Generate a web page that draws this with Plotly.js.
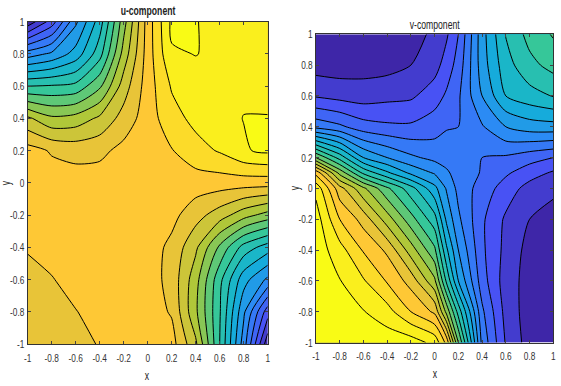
<!DOCTYPE html>
<html>
<head>
<meta charset="utf-8">
<script src="https://cdn.plot.ly/plotly-3.0.1.min.js"></script>
<style>html,body{margin:0;padding:0;background:#fff}</style>
</head>
<body>
<div id="chart" style="width:561px;height:386px"></div>
<script>
// grid nodes; v gets one extra line at 0.1 where its contours bunch up
const uGrid = [-1, -0.8, -0.6, -0.4, -0.2, 0, 0.2, 0.4, 0.6, 0.8, 1];
const vGrid = [-1, -0.8, -0.6, -0.4, -0.2, 0, 0.1, 0.2, 0.4, 0.6, 0.8, 1];
const tickVals = [-1, -0.8, -0.6, -0.4, -0.2, 0, 0.2, 0.4, 0.6, 0.8, 1];
const tickText = ['-1', '-0.8', '-0.6', '-0.4', '-0.2', '0', '0.2', '0.4', '0.6', '0.8', '1'];

const uValues = [
  [15.5, 15.65, 15.8, 16.04, 16.4, 16.5, 16.4, 14.2, 10, 5.5, 0.3],
  [15.7, 15.8, 15.98, 16.2, 16.45, 16.5, 15.9, 13.2, 10.1, 6.2, 2.45],
  [15.85, 15.97, 16.2, 16.35, 16.5, 16.5, 15.65, 13.4, 10.3, 7.4, 5.8],
  [16.04, 16.2, 16.35, 16.45, 16.5, 16.5, 15.75, 14.2, 11.8, 9.6, 8.5],
  [16.4, 16.45, 16.5, 16.5, 16.55, 16.55, 16.3, 15.4, 14.5, 13.4, 12.6],
  [16.5, 16.5, 16.5, 16.5, 16.55, 16.55, 16.55, 16.52, 16.5, 16.47, 16.45],
  [16.4, 15.9, 15.65, 15.75, 16.3, 16.55, 16.95, 17.6, 18.1, 18.9, 19.2],
  [14.2, 13.2, 13.4, 14.2, 15.4, 16.52, 17.6, 18.3, 18.7, 19.02, 19.02],
  [10, 10.1, 10.3, 11.8, 14.5, 16.5, 18.1, 18.7, 18.75, 18.85, 18.85],
  [5.5, 6.2, 7.4, 9.6, 13.4, 16.47, 18.9, 19.02, 18.85, 18.8, 18.75],
  [0.3, 2.45, 5.8, 8.5, 12.6, 16.45, 19.2, 19.02, 18.85, 18.75, 18.7]
];
const vValues = [
  [19.9, 19.8, 19.7, 19.6, 19.5, 18.7, 16.7, 12, 4.7, 1.9, 0.55, 0.2],
  [19.8, 19.4, 19.05, 18.4, 17, 15.8, 12.7, 9.6, 4.2, 1.65, 0.5, 0.3],
  [19.7, 19.05, 18.1, 16.9, 15.6, 13.2, 9.8, 7, 3.45, 1.5, 0.6, 0.5],
  [19.6, 18.4, 16.9, 15.8, 13.5, 11.2, 8.2, 6, 3.2, 1.7, 0.65, 0.6],
  [19.5, 17, 15.6, 13.5, 11.4, 9.4, 6.8, 5.2, 3.17, 1.83, 1, 0.85],
  [18.7, 15.4, 13.2, 11.2, 9.4, 7.3, 5.9, 4.7, 3.55, 2.55, 1.6, 1.08],
  [16.7, 12.7, 9.8, 8.2, 6.8, 5.9, 5.1, 4.75, 3.9, 3.15, 2.45, 1.85],
  [12, 9.6, 7, 6, 5.2, 4.7, 4.75, 4.85, 4, 3.85, 3.4, 3],
  [4.7, 4.2, 3.45, 3.2, 3.17, 3.55, 3.9, 4, 4.9, 6, 6.5, 6.6],
  [1.9, 1.65, 1.5, 1.7, 1.83, 2.55, 3.15, 3.85, 6, 8, 8.6, 9.05],
  [0.55, 0.5, 0.6, 0.65, 1, 1.6, 2.45, 3.4, 6.5, 8.6, 9.7, 10.35],
  [0.2, 0.3, 0.5, 0.6, 0.85, 1.08, 1.85, 3, 6.6, 9.05, 10.35, 11.1]
];

// parula stops, nudged so each band lands on the reference colour
const parula = [
  [0, '#3e26a8'], [0.105, '#4852f4'], [0.25, '#2e87f7'], [0.39, '#12b1d6'],
  [0.53, '#37c897'], [0.675, '#abc739'], [0.83, '#fec338'], [0.98, '#f9fb15'], [1, '#f9fb15']
];

const fontName = '"Liberation Sans", Arial, sans-serif';
const W = 561, H = 386;

function contourTrace(grid, z, xa, ya) {
  return {
    type: 'contour', x: grid, y: grid, z: z, xaxis: xa, yaxis: ya,
    colorscale: parula, showscale: false, hoverinfo: 'skip',
    autocontour: false,
    contours: { start: 1, end: 19, size: 1, coloring: 'fill' },
    line: { color: '#000', width: 1, smoothing: 0.7 }
  };
}

function axisOpts(domain, anchor, labelGap) {
  return {
    domain: domain, anchor: anchor, range: [-1, 1],
    tickmode: 'array', tickvals: tickVals, ticktext: tickText,
    ticks: 'inside', ticklen: 3, tickcolor: '#444', ticklabelstandoff: labelGap,
    showline: true, linecolor: '#333', linewidth: 1, mirror: 'ticks',
    showgrid: false, zeroline: false,
    tickfont: { family: fontName, size: 11.5, color: '#333' }
  };
}

function textNote(text, px, py, angle, size) {
  return {
    text: text, xref: 'paper', yref: 'paper', x: px / W, y: 1 - py / H,
    xanchor: 'center', yanchor: 'middle', showarrow: false, textangle: angle,
    font: { family: fontName, size: size, color: '#222' }
  };
}

const layout = {
  width: W, height: H, showlegend: false,
  margin: { l: 0, r: 0, t: 0, b: 0 },
  paper_bgcolor: '#fff', plot_bgcolor: '#fff',
  xaxis: axisOpts([27.7 / W, 267.7 / W], 'y', 3),
  yaxis: axisOpts([1 - 344 / H, 1 - 21.7 / H], 'x', 0),
  xaxis2: axisOpts([316 / W, 553.3 / W], 'y2', 3),
  yaxis2: axisOpts([1 - 342.5 / H, 1 - 34.3 / H], 'x2', 0),
  annotations: [
    textNote('<b>u-component</b>', 147.5, 11.5, 0, 12),
    textNote('v-component', 434.5, 25, 0, 12),
    textNote('x', 147, 376, 0, 12),
    textNote('x', 435, 374, 0, 12),
    textNote('y', 6, 183, -90, 12),
    textNote('y', 295, 188, -90, 12)
  ]
};

Plotly.newPlot('chart', [contourTrace(uGrid, uValues, 'x', 'y'), contourTrace(vGrid, vValues, 'x2', 'y2')], layout, { displayModeBar: false, staticPlot: true }).then(function () {
  // the reference text is squeezed sideways, so narrow every label the same way
  document.querySelectorAll('#chart .xtick text, #chart .ytick text, #chart .x2tick text, #chart .y2tick text, #chart .annotation-text').forEach(function (el) {
    el.setAttribute('textLength', el.getComputedTextLength() * 0.72);
    el.setAttribute('lengthAdjust', 'spacingAndGlyphs');
  });
});
</script>
</body>
</html>
